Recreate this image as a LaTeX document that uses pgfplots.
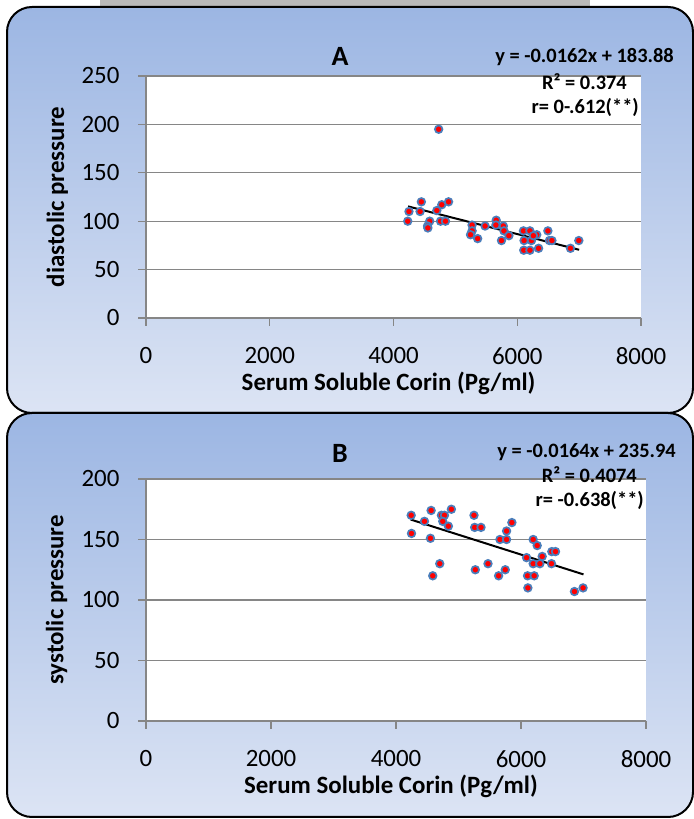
\documentclass[border=0pt]{standalone}
\usepackage{fontspec}
\setmainfont{Carlito}
\usepackage{pgfplots}
\pgfplotsset{compat=1.18}
\definecolor{pbtop}{HTML}{9CB6E3}
\definecolor{pbbot}{HTML}{DCE4F4}
\definecolor{gridg}{HTML}{868686}
\definecolor{mkblue}{HTML}{4A7EBB}
\pgfplotsset{
  myax/.style={
    scale only axis, height=242bp,
    axis x line*=bottom, axis y line*=left,
    xmin=0, xmax=8000, xtick={0,2000,4000,6000,8000},
    ymajorgrids, grid style={gridg,line width=1.2bp},
    axis line style={gridg,line width=1.2bp},
    tick style={gridg,line width=1.2bp},
    tick align=outside, major tick length=8bp,
    axis background/.style={fill=white},
    ticklabel style={font=\fontsize{25}{30}\selectfont, text=black},
    xticklabel style={yshift=-18bp},
    yticklabel style={xshift=-15bp},
    /pgf/number format/assume math mode=true,
    /pgf/number format/set thousands separator={},
    label style={font=\bfseries\fontsize{25}{30}\selectfont},
    xlabel={Serum Soluble Corin (Pg/ml)},
    xlabel style={at={(axis description cs:0.49,0)}, anchor=center, yshift=-65bp},
    ylabel style={at={(axis description cs:-0.179,0.5)}, anchor=center},
    clip=false,
  },
  dots/.style={only marks, mark=*, mark size=3.8bp,
    mark options={fill=red, draw=mkblue, line width=1.7bp}},
  trend/.style={black, line width=2bp, no marks},
}
\begin{document}
\begin{tikzpicture}[x=1bp,y=1bp]
\useasboundingbox (0,0) rectangle (694,819);
\fill[white] (0,0) rectangle (694,819);
\fill[gray!55] (100,812) rectangle (590,819);
\path[draw=black, line width=2bp, top color=pbtop, bottom color=pbbot, rounded corners=25bp] (7,406) rectangle (693,812);
\path[draw=black, line width=2bp, top color=pbtop, bottom color=pbbot, rounded corners=25bp] (7,2) rectangle (693,406);

\begin{axis}[myax, at={(146bp,501bp)}, anchor=south west, width=495bp,
  ymin=0, ymax=250, ytick={0,50,100,150,200,250},
  ylabel={diastolic pressure}]
\addplot[dots] coordinates {
(4730,195) (4450,120) (4890,120) (4780,117) (4250,110) (4430,110) (4700,111)
(4230,100) (4585,100) (4760,100) (4840,100) (4550,95) (4555,93)
(5270,96) (5270,90) (5245,86) (5360,82) (5480,95) (5660,101) (5655,96)
(5775,95) (5785,90) (5745,80) (5865,85) (6100,90) (6205,90) (6110,80)
(6230,80) (6315,86) (6260,85) (6105,70) (6205,70) (6345,72) (6495,90)
(6520,80) (6560,80) (6860,72) (6995,80)
};
\addplot[trend] coordinates {(4235,115.27) (7000,70.48)};
\end{axis}

\begin{axis}[myax, at={(146bp,98bp)}, anchor=south west, width=500bp,
  ymin=0, ymax=200, ytick={0,50,100,150,200},
  ylabel={systolic pressure}]
\addplot[dots] coordinates {
(4243,170) (4455,165) (4562,174) (4248,155) (4551,151) (4727,170) (4775,170)
(4748,165) (4838,161) (4886,175) (4700,130) (4588,120) (5248,170) (5259,160)
(5360,160) (5269,125) (5472,130) (5642,120) (5748,125) (5663,150) (5769,150)
(5769,157) (5854,164) (6195,150) (6259,145) (6089,135) (6339,136) (6195,130)
(6302,130) (6105,120) (6211,120) (6110,110) (6493,140) (6552,140) (6488,130)
(6855,107) (6993,110)
};
\addplot[trend] coordinates {(4235,166.49) (7000,121.14)};
\end{axis}

\node[font=\bfseries\fontsize{28}{30}\selectfont] at (340,763) {A};
\node[anchor=east, inner sep=0pt, font=\bfseries\fontsize{20.5}{24}\selectfont] at (674,762) {y = -0.0162x + 183.88};
\node[anchor=east, inner sep=0pt, font=\bfseries\fontsize{20.5}{24}\selectfont] at (627,737) {R² = 0.374};
\node[anchor=east, inner sep=0pt, font=\bfseries\fontsize{20.5}{24}\selectfont] at (639,712) {r= 0-.612(**)};

\node[font=\bfseries\fontsize{28}{30}\selectfont] at (340,366) {B};
\node[anchor=east, inner sep=0pt, font=\bfseries\fontsize{20.5}{24}\selectfont] at (676,367) {y = -0.0164x + 235.94};
\node[anchor=east, inner sep=0pt, font=\bfseries\fontsize{20.5}{24}\selectfont] at (637,344) {R² = 0.4074};
\node[anchor=east, inner sep=0pt, font=\bfseries\fontsize{20.5}{24}\selectfont] at (644,319) {r= -0.638(**)};
\end{tikzpicture}
\end{document}
